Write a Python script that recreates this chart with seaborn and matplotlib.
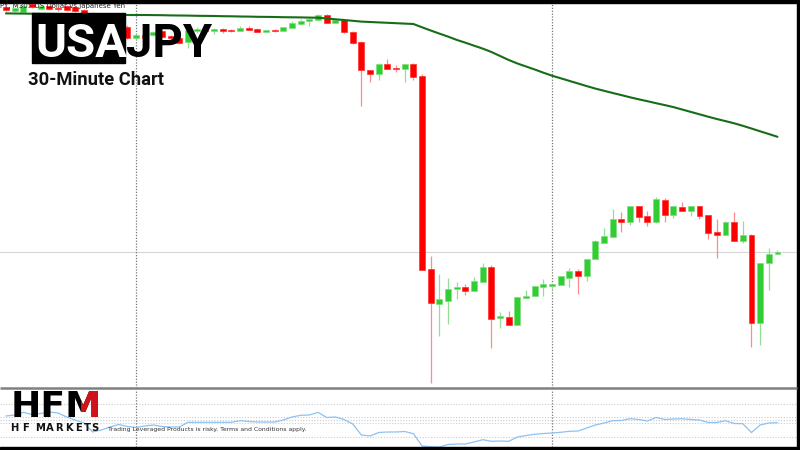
import matplotlib
matplotlib.use('Agg')
import pandas as pd
import matplotlib.pyplot as plt
from matplotlib.patches import Rectangle
import seaborn as sns

# USDJPY M30 candles (prices in yen)
open_ = [148.930, 148.890, 148.880, 148.960, 148.910, 148.940, 148.920, 148.940, 148.927, 148.900,
         148.870, 148.830, 148.780, 148.810, 148.733, 148.620, 148.650, 148.650, 148.690, 148.640,
         148.623, 148.580, 148.690, 148.700, 148.690, 148.710, 148.700, 148.693, 148.717, 148.710,
         148.683, 148.703, 148.690, 148.723, 148.757, 148.787, 148.800, 148.853, 148.773, 148.800,
         148.677, 148.583, 148.300, 148.263, 148.363, 148.323, 148.313, 148.360, 148.240, 146.310,
         145.960, 145.993, 146.110, 146.130, 146.090, 146.180, 146.333, 145.817, 145.833, 145.747,
         146.017, 146.040, 146.130, 146.143, 146.147, 146.223, 146.290, 146.240, 146.407, 146.573,
         146.627, 146.810, 146.780, 146.940, 146.843, 146.783, 147.000, 146.850, 146.933, 146.893,
         146.937, 146.847, 146.680, 146.647, 146.783, 146.587, 146.647, 145.767, 146.370, 146.460]
close = [148.900, 148.920, 148.940, 148.930, 148.940, 148.910, 148.910, 148.900, 148.890, 148.867,
         148.830, 148.800, 148.820, 148.740, 148.623, 148.650, 148.620, 148.677, 148.633, 148.620,
         148.573, 148.700, 148.710, 148.690, 148.710, 148.693, 148.690, 148.717, 148.700, 148.683,
         148.700, 148.690, 148.727, 148.767, 148.793, 148.813, 148.853, 148.773, 148.800, 148.677,
         148.573, 148.297, 148.260, 148.363, 148.313, 148.310, 148.357, 148.233, 146.300, 145.970,
         146.010, 146.113, 146.130, 146.093, 146.190, 146.333, 145.813, 145.840, 145.747, 146.027,
         146.043, 146.140, 146.157, 146.157, 146.237, 146.290, 146.240, 146.413, 146.590, 146.637,
         146.810, 146.780, 146.940, 146.833, 146.783, 147.007, 146.853, 146.937, 146.893, 146.937,
         146.840, 146.673, 146.647, 146.783, 146.587, 146.647, 145.767, 146.370, 146.463, 146.483]
high = [148.940, 148.930, 148.950, 148.970, 148.950, 148.950, 148.930, 148.950, 148.940, 148.910,
        148.880, 148.840, 148.830, 148.820, 148.750, 148.660, 148.660, 148.690, 148.700, 148.650,
        148.630, 148.710, 148.730, 148.720, 148.720, 148.720, 148.707, 148.740, 148.737, 148.717,
        148.705, 148.713, 148.727, 148.787, 148.807, 148.820, 148.860, 148.860, 148.805, 148.805,
        148.693, 148.590, 148.300, 148.367, 148.413, 148.350, 148.357, 148.367, 148.260, 146.440,
        146.260, 146.220, 146.180, 146.160, 146.233, 146.370, 146.347, 145.883, 145.890, 146.033,
        146.100, 146.140, 146.210, 146.157, 146.243, 146.323, 146.310, 146.413, 146.600, 146.723,
        146.910, 146.877, 146.940, 146.940, 146.890, 147.027, 147.017, 146.937, 146.980, 146.937,
        146.937, 146.853, 146.810, 146.790, 146.880, 146.790, 146.657, 146.370, 146.517, 146.497]
low = [148.890, 148.880, 148.870, 148.920, 148.900, 148.900, 148.890, 148.890, 148.880, 148.850,
       148.820, 148.780, 148.770, 148.730, 148.610, 148.610, 148.600, 148.640, 148.620, 148.610,
       148.560, 148.520, 148.670, 148.680, 148.657, 148.673, 148.677, 148.693, 148.700, 148.677,
       148.680, 148.677, 148.690, 148.723, 148.747, 148.740, 148.800, 148.767, 148.770, 148.670,
       148.560, 147.940, 148.180, 148.200, 148.313, 148.280, 148.180, 148.197, 146.300, 145.170,
       145.640, 145.760, 146.010, 146.053, 146.090, 146.180, 145.517, 145.723, 145.747, 145.747,
       146.017, 146.040, 146.043, 146.110, 146.147, 146.127, 146.060, 146.193, 146.407, 146.567,
       146.627, 146.677, 146.747, 146.780, 146.737, 146.767, 146.777, 146.823, 146.893, 146.843,
       146.807, 146.607, 146.423, 146.647, 146.587, 146.567, 145.533, 145.547, 146.100, 146.460]

# moving average (green line)
ma = [148.866, 148.865, 148.864, 148.863, 148.862, 148.861, 148.860, 148.859, 148.857, 148.856,
      148.855, 148.854, 148.852, 148.851, 148.850, 148.850, 148.850, 148.849, 148.848, 148.846,
      148.845, 148.844, 148.842, 148.841, 148.840, 148.838, 148.837, 148.835, 148.834, 148.832,
      148.831, 148.830, 148.828, 148.827, 148.826, 148.824, 148.823, 148.815, 148.807, 148.800,
      148.792, 148.784, 148.780, 148.776, 148.772, 148.768, 148.764, 148.760, 148.727, 148.695,
      148.664, 148.634, 148.601, 148.573, 148.543, 148.514, 148.480, 148.440, 148.400, 148.365,
      148.335, 148.305, 148.273, 148.243, 148.217, 148.191, 148.165, 148.139, 148.114, 148.092,
      148.070, 148.049, 148.027, 148.007, 147.988, 147.968, 147.949, 147.929, 147.905, 147.881,
      147.857, 147.833, 147.810, 147.789, 147.767, 147.742, 147.715, 147.687, 147.660, 147.632]

# oscillator in the lower window
osc = [31, 32, 34.7, 32.5, 33.5, 35, 34, 30, 27, 24,
       15, 17, 20, 22.5, 20.5, 19.5, 21, 22, 20.5, 20,
       20, 24.7, 24.7, 24.7, 24.7, 24.7, 24.7, 26.3, 25.5, 25,
       25, 25, 27, 30, 31.7, 32, 34.7, 29.5, 30, 27.5,
       23, 12, 11, 14.5, 15, 15, 15.5, 13.3, 1, 0.3,
       0, 2.5, 3, 3, 5, 7.3, 5.7, 6, 5.7, 10,
       11.5, 12.7, 13.5, 14, 14.7, 15.7, 16, 19, 22, 24,
       26.3, 26.5, 28.3, 27.5, 26, 29.5, 27.5, 28, 28.3, 27.5,
       27, 24.5, 24.5, 26.3, 23.5, 23.3, 14.5, 22, 24, 24.3]
osc_levels = [43, 29.7, 26.7, 23.7, 10.3]

day_separators = [15, 63]

sns.set_theme(style='white')
plt.rcParams['font.family'] = ['Roboto', 'DejaVu Sans']

df = pd.DataFrame({'open': open_, 'high': high, 'low': low, 'close': close, 'ma': ma, 'osc': osc})
df['idx'] = range(len(df))
df['up'] = df['close'] >= df['open']

fig = plt.figure(figsize=(8, 4.5), dpi=100)
fig.patch.set_facecolor('white')
ax = fig.add_axes([0, 62 / 450, 1, 388 / 450])
axo = fig.add_axes([0, 3 / 450, 1, 57 / 450])
over = fig.add_axes([0, 0, 1, 1], zorder=10)

xlim = (-0.69, 91.6)

# candles
ax.axhline(df['close'].iloc[-1], color='#d6d6d6', lw=0.8, zorder=1)
for up, grp in df.groupby('up'):
    body = '#32cd32' if up else '#ff0000'
    edge = '#7fe07f' if up else '#ff3030'
    wick = '#95de95' if up else '#ff8c8c'
    ax.vlines(grp['idx'], grp['low'], grp['high'], color=wick, lw=0.9, zorder=2)
    bottom = grp[['open', 'close']].min(axis=1)
    height = (grp['open'] - grp['close']).abs().clip(lower=0.012)
    ax.bar(grp['idx'], height, bottom=bottom, width=0.68, color=body,
           edgecolor=edge, lw=0.5, zorder=3)

sns.lineplot(data=df, x='idx', y='ma', ax=ax, color='#176d17', lw=1.5, zorder=4)
for s in day_separators:
    ax.axvline(s, color='#777777', ls=(0, (1, 1.3)), lw=0.9, zorder=1)
ax.set_xlim(xlim)
ax.set_ylim(145.12, 149.00)
ax.set_axis_off()

# oscillator window
for lv in osc_levels:
    axo.axhline(lv, color='#cccccc', ls=(0, (1, 1.5)), lw=0.8)
for s in day_separators:
    axo.axvline(s, color='#777777', ls=(0, (1, 1.3)), lw=0.9)
sns.lineplot(data=df, x='idx', y='osc', ax=axo, color='#8cc2f2', lw=0.9)
axo.set_xlim(xlim)
axo.set_ylim(0, 57)
axo.set_axis_off()

# overlay in pixel coordinates
over.set_xlim(0, 800)
over.set_ylim(450, 0)
over.axis('off')
over.patch.set_alpha(0)

over.add_patch(Rectangle((0, 0), 800, 3, color='black'))
over.add_patch(Rectangle((797, 0), 3, 450, color='black'))
over.add_patch(Rectangle((0, 447), 800, 3, color='black'))
over.plot([0, 797], [388, 388], color='#808080', lw=1.8, solid_capstyle='butt')

over.text(0.5, 8, 'PY, M30:  US Dollar vs Japanese Yen', fontsize=5, color='#222222',
          va='baseline', family=['DejaVu Sans'])

over.add_patch(Rectangle((32, 13.3), 93, 50, color='black'))
over.text(35, 57, 'USA', color='white', fontsize=34, weight='bold', va='baseline')
over.text(126, 57, 'JPY', color='black', fontsize=34, weight='bold', va='baseline')
over.text(28, 85, '30-Minute Chart', color='#111111', fontsize=13.2, weight='bold', va='baseline')

# HFM logo: black letters, right half of the M in red
over.text(11, 417, 'HFM', color='black', fontsize=26, weight='bold', va='baseline',
          family=['DejaVu Sans'])
red = over.text(11, 417, 'HFM', color='#d0121b', fontsize=26, weight='bold', va='baseline',
                family=['DejaVu Sans'])
clip = Rectangle((81, 380), 30, 40, transform=over.transData, fill=False, lw=0)
over.add_patch(clip)
red.set_clip_on(True)
red.set_clip_path(clip)

for ch, cx in zip('HFMARKETS', [14, 25.5, 40, 49.5, 59, 68.5, 78, 87, 95]):
    over.text(cx, 431, ch, fontsize=7.2, weight='bold', ha='center', va='baseline',
              color='#111111', family=['DejaVu Sans'])
over.text(108, 431, 'Trading Leveraged Products is risky. Terms and Conditions apply.',
          fontsize=4.4, color='#333333', va='baseline', family=['DejaVu Sans'])

fig.savefig('out.png', dpi=100)
